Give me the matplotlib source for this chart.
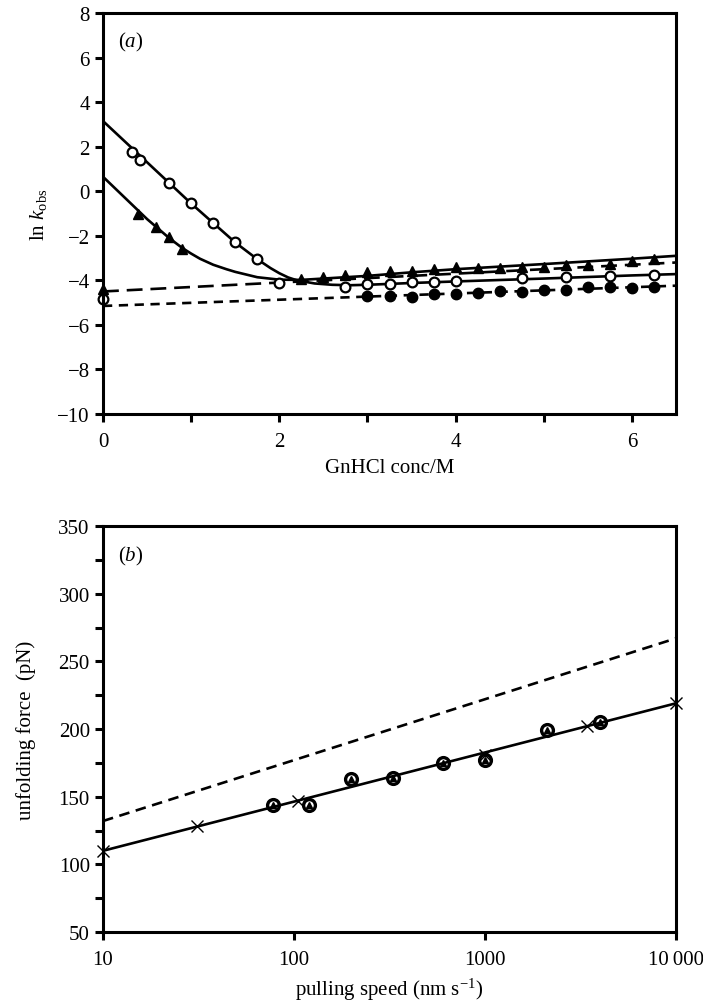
import numpy as np
import matplotlib
matplotlib.use("Agg")
import matplotlib.pyplot as plt
from matplotlib.ticker import MultipleLocator, FuncFormatter, FixedLocator, NullLocator

plt.rcParams['font.family'] = ['Liberation Serif', 'DejaVu Serif']
plt.rcParams['mathtext.fontset'] = 'custom'
plt.rcParams['mathtext.rm'] = 'Liberation Serif'
plt.rcParams['mathtext.it'] = 'Liberation Serif:italic'
plt.rcParams['axes.unicode_minus'] = True

# ---- panel (a): chevron data ----
openX = [0, 0.33, 0.42, 0.75, 1.0, 1.25, 1.5, 1.75, 2.0, 2.75, 3.0, 3.25, 3.5, 3.75, 4.0, 4.75, 5.25, 5.75, 6.25]
openY = [-4.85, 1.78, 1.42, 0.36, -0.53, -1.43, -2.28, -3.03, -4.1, -4.3, -4.15, -4.15, -4.08, -4.08, -4.03, -3.88, -3.85, -3.8, -3.75]

triX = [0, 0.4, 0.6, 0.75, 0.9, 2.25, 2.5, 2.75, 3.0, 3.25, 3.5, 3.75, 4.0, 4.25, 4.5, 4.75, 5.0, 5.25, 5.5, 5.75, 6.0, 6.25]
triY = [-4.4, -1.0, -1.6, -2.06, -2.6, -3.93, -3.85, -3.75, -3.63, -3.56, -3.56, -3.5, -3.42, -3.45, -3.45, -3.42, -3.38, -3.33, -3.3, -3.25, -3.15, -3.05]

fillX = [3.0, 3.25, 3.5, 3.75, 4.0, 4.25, 4.5, 4.75, 5.0, 5.25, 5.5, 5.75, 6.0, 6.25]
fillY = [-4.7, -4.72, -4.75, -4.6, -4.6, -4.58, -4.5, -4.52, -4.42, -4.42, -4.32, -4.32, -4.35, -4.32]

# fitted curves
fitOpenX = [0, 0.5, 1.0, 1.5, 1.75, 1.9, 2.0, 2.1, 2.2, 2.4, 2.6, 2.8, 3.0, 3.5, 4.0, 5.0, 6.0, 6.5]
fitOpenY = [3.15, 1.3, -0.55, -2.3, -3.05, -3.45, -3.68, -3.87, -4.0, -4.14, -4.2, -4.22, -4.2, -4.12, -4.05, -3.92, -3.78, -3.72]

fitTriX = [0, 0.25, 0.5, 0.75, 0.9, 1.0, 1.1, 1.25, 1.4, 1.5, 1.75, 2.0, 2.25, 2.5, 3.0, 3.5, 4.0, 5.0, 6.0, 6.5]
fitTriY = [0.65, -0.3, -1.25, -2.1, -2.55, -2.8, -3.03, -3.3, -3.5, -3.62, -3.86, -3.97, -3.98, -3.92, -3.8, -3.64, -3.5, -3.27, -3.03, -2.9]

dashUpX = [0, 6.5]
dashUpY = [-4.5, -3.2]
dashLoX = [0, 6.5]
dashLoY = [-5.15, -4.24]

# ---- panel (b): force vs pulling speed ----
speedExp = [78, 120, 200, 330, 600, 1000, 2100, 4000]
forceExp = [144, 144, 163, 164, 175, 177, 199, 205]

speedSim = [10, 31, 105, 1000, 3400, 10000]
forceSim = [110, 128, 147, 181, 202, 219]

fitSolidX = [10, 10000]
fitSolidY = [110, 219]
fitDashX = [10, 10000]
fitDashY = [132, 267]

fig = plt.figure(figsize=(7.03, 10.04), dpi=100)
axA = fig.add_axes([103/703, 1-415/1004, 573/703, 401/1004])
axB = fig.add_axes([103/703, 1-933/1004, 573/703, 406/1004])

fs = 15
lw = 1.9
for ax in (axA, axB):
    for s in ax.spines.values():
        s.set_linewidth(2.2)
    ax.tick_params(direction='out', length=6, width=2.2, labelsize=fs, top=False, right=False)
    ax.tick_params(which='minor', direction='out', length=6, width=2.2)
    ax.tick_params(axis='x', pad=7)

# panel a
axA.plot(dashUpX, dashUpY, color='black', lw=lw, ls=(0, (6, 3)))
axA.plot(dashLoX, dashLoY, color='black', lw=lw, ls=(0, (3.5, 2.5)))
axA.plot(fitOpenX, fitOpenY, color='black', lw=lw)
axA.plot(fitTriX, fitTriY, color='black', lw=lw)
axA.plot(fillX, fillY, 'o', ms=7.5, color='black', clip_on=False)
axA.plot(openX, openY, 'o', ms=7, mfc='white', mec='black', mew=1.6, clip_on=False)
axA.plot(triX, triY, '^', ms=7.5, color='black', clip_on=False)

axA.set_xlim(0, 6.5)
axA.set_ylim(-10, 8)
axA.xaxis.set_major_locator(MultipleLocator(1))
axA.xaxis.set_major_formatter(FuncFormatter(lambda v, p: '%d' % v if int(round(v)) % 2 == 0 else ''))
axA.yaxis.set_major_locator(MultipleLocator(2))
axA.yaxis.set_major_formatter(FuncFormatter(lambda v, p: ('%d' % v).replace('-', '\u2212')))
axA.set_xlabel('GnHCl conc/M', fontsize=fs, labelpad=5)
axA.set_ylabel(r'ln $k_{\mathrm{obs}}$', fontsize=fs, labelpad=6)
axA.text(0.026, 0.93, r'($a$)', transform=axA.transAxes, fontsize=fs, va='center', ha='left')

# panel b
axB.set_xscale('log')
axB.plot(fitDashX, fitDashY, color='black', lw=lw, ls=(0, (4, 2.5)))
axB.plot(fitSolidX, fitSolidY, color='black', lw=lw)
axB.plot(speedExp, forceExp, '^', ms=5, color='black')
axB.plot(speedExp, forceExp, 'o', ms=8.5, mfc='none', mec='black', mew=2.4)
axB.plot(speedSim, forceSim, 'x', ms=8, mec='black', mew=1.0, clip_on=False)

axB.set_xlim(10, 10000)
axB.set_ylim(50, 350)
axB.xaxis.set_major_locator(FixedLocator([10, 100, 1000, 10000]))
axB.xaxis.set_minor_locator(NullLocator())
axB.set_xticklabels(['10', '100', '1000', '10\u2009000'])
axB.yaxis.set_major_locator(MultipleLocator(25))
axB.yaxis.set_major_formatter(FuncFormatter(lambda v, p: '%d' % v if int(round(v)) % 50 == 0 else ''))
axB.set_xlabel(r'pulling speed (nm s$^{-1}$)', fontsize=fs, labelpad=5)
axB.set_ylabel('unfolding force  (pN)', fontsize=fs, labelpad=16)
axB.text(0.026, 0.928, r'($b$)', transform=axB.transAxes, fontsize=fs, va='center', ha='left')

fig.savefig('out.png', dpi=100)
